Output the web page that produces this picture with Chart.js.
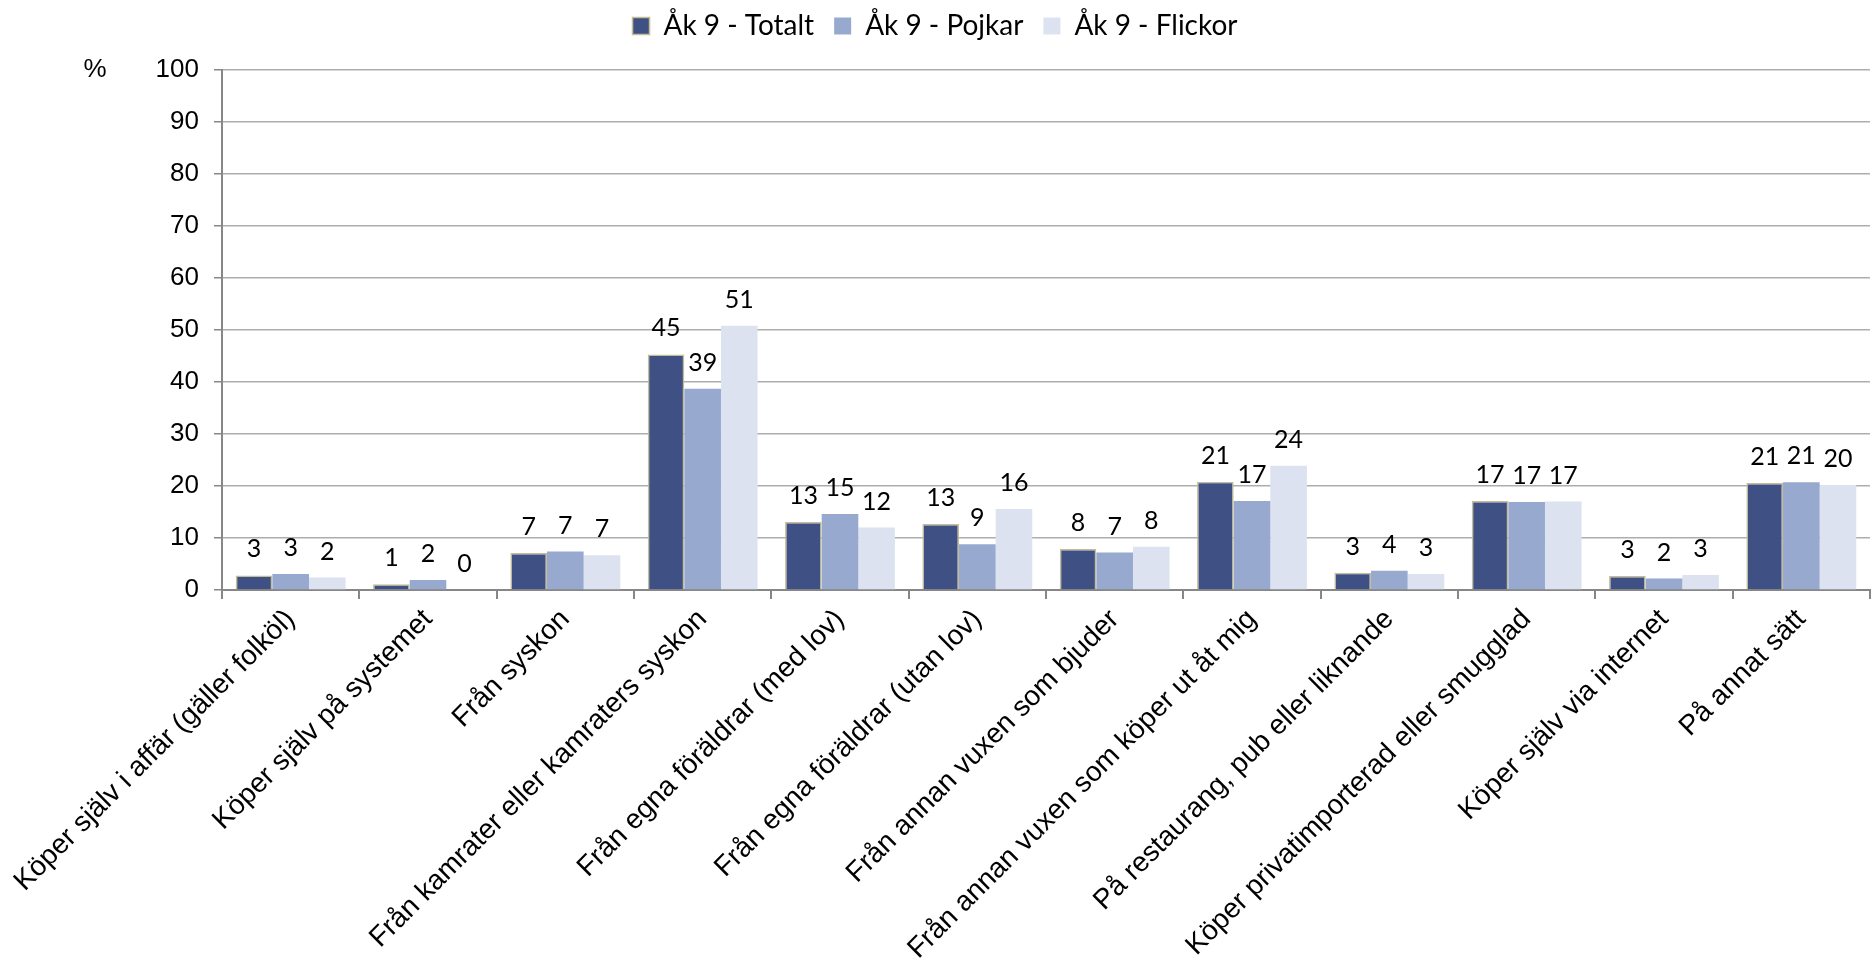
<!DOCTYPE html>
<html>
<head>
<meta charset="utf-8">
<script src="https://cdn.jsdelivr.net/npm/chart.js@4/dist/chart.umd.min.js"></script>
<style>
  html, body { margin: 0; padding: 0; background: #fff; }
  #wrap { width: 1872px; height: 963px; }
</style>
</head>
<body>
<div id="wrap"><canvas id="chart"></canvas></div>
<script>
// categories and series
const categories = [
  "Köper själv i affär (gäller folköl)",
  "Köper själv på systemet",
  "Från syskon",
  "Från kamrater eller kamraters syskon",
  "Från egna föräldrar (med lov)",
  "Från egna föräldrar (utan lov)",
  "Från annan vuxen som bjuder",
  "Från annan vuxen som köper ut åt mig",
  "På restaurang, pub eller liknande",
  "Köper privatimporterad eller smugglad",
  "Köper själv via internet",
  "På annat sätt"
];
const totalt = [2.8, 1.1, 7.1, 45.3, 13.1, 12.7, 7.9, 20.8, 3.3, 17.1, 2.7, 20.6];
const pojkar = [3.1, 1.9, 7.4, 38.7, 14.6, 8.8, 7.2, 17.1, 3.7, 16.9, 2.2, 20.7];
const flickor = [2.4, 0, 6.7, 50.8, 12.0, 15.6, 8.3, 23.9, 3.1, 17.0, 2.9, 20.2];
const yTicks = [0, 10, 20, 30, 40, 50, 60, 70, 80, 90, 100];

const labelFont = "Lato, 'Noto Sans', sans-serif";
const axisFont = "'Liberation Sans', Arial, sans-serif";

// value labels above bars + the "%" unit label
const valueLabels = {
  id: "valueLabels",
  afterDatasetsDraw(chart) {
    const ctx = chart.ctx;
    ctx.save();
    ctx.font = "25px " + labelFont;
    ctx.fillStyle = "#000";
    ctx.textAlign = "center";
    ctx.textBaseline = "alphabetic";
    chart.data.datasets.forEach((ds, i) => {
      chart.getDatasetMeta(i).data.forEach((bar, j) => {
        ctx.fillText(Math.round(ds.data[j]), bar.x, bar.y - 18);
      });
    });
    const y = chart.scales.y;
    ctx.font = "26px " + axisFont;
    ctx.textBaseline = "middle";
    ctx.fillText("%", 95, y.getPixelForValue(100));
    ctx.restore();
  }
};

// extra room between legend and plot
const legendGap = {
  id: "legendGap",
  beforeInit(chart) {
    const fit = chart.legend.fit;
    chart.legend.fit = function () {
      fit.bind(chart.legend)();
      this.height += 20;
    };
  }
};

new Chart(document.getElementById("chart"), {
  type: "bar",
  data: {
    labels: categories,
    datasets: [
      { label: "Åk 9 - Totalt", data: totalt, backgroundColor: "#3F5184", borderColor: "#C4BD97", borderWidth: 1.5 },
      { label: "Åk 9 - Pojkar", data: pojkar, backgroundColor: "#98A9D0" },
      { label: "Åk 9 - Flickor", data: flickor, backgroundColor: "#DCE2F0" }
    ]
  },
  options: {
    responsive: true,
    maintainAspectRatio: false,
    animation: false,
    layout: { padding: { left: 0, right: 2, top: -8, bottom: 0 } },
    datasets: { bar: { categoryPercentage: 0.8, barPercentage: 1.0 } },
    plugins: {
      legend: {
        position: "top",
        labels: {
          font: { family: labelFont, size: 28 },
          color: "#000",
          boxWidth: 17,
          boxHeight: 17,
          padding: 20
        }
      },
      tooltip: { enabled: false }
    },
    scales: {
      x: {
        offset: true,
        grid: { display: true, drawOnChartArea: false, offset: true, tickLength: 9, color: "#878787", lineWidth: 2 },
        border: { color: "#878787", width: 2 },
        ticks: {
          minRotation: 45,
          maxRotation: 45,
          autoSkip: false,
          padding: 4,
          color: "#000",
          font: { family: axisFont, size: 28 }
        },
        afterFit(scale) { scale.height = 373; }
      },
      y: {
        min: 0,
        max: 100,
        afterBuildTicks(scale) { scale.ticks = yTicks.map(v => ({ value: v })); },
        grid: { color: "#ADADAD", lineWidth: 1.5, tickLength: 8, tickColor: "#878787" },
        border: { color: "#878787", width: 2 },
        ticks: {
          padding: 15,
          color: "#000",
          font: { family: axisFont, size: 26 }
        },
        afterFit(scale) { scale.width = 222; }
      }
    }
  },
  plugins: [valueLabels, legendGap]
});
</script>
</body>
</html>
